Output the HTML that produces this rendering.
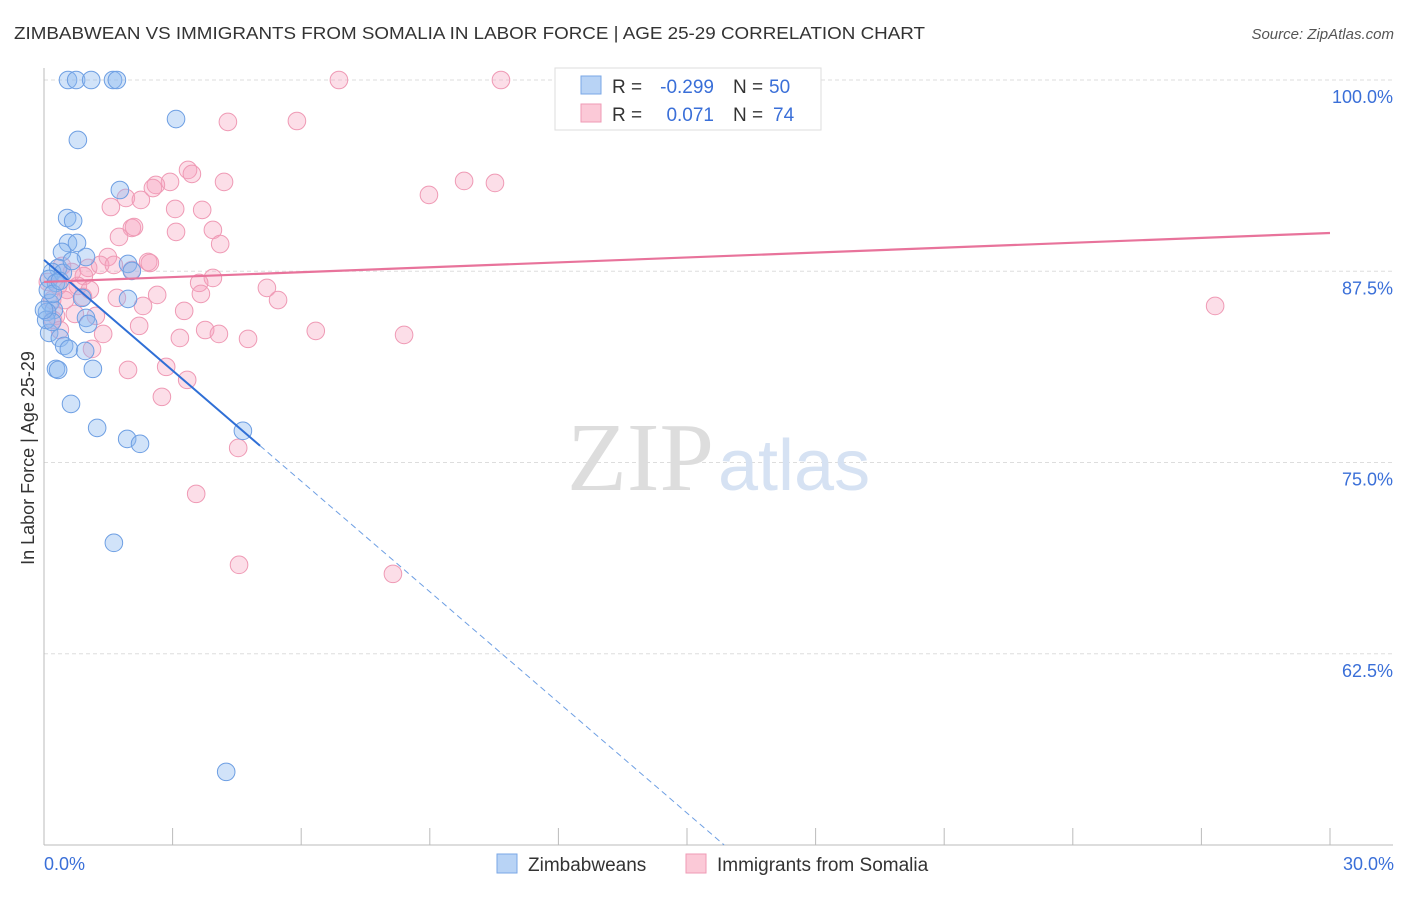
<!DOCTYPE html>
<html><head><meta charset="utf-8"><style>
body{margin:0;background:#fff;font-family:"Liberation Sans",sans-serif;}
svg text{font-family:"Liberation Sans",sans-serif;}
</style></head><body>
<svg width="1406" height="892" xmlns="http://www.w3.org/2000/svg">
<text x="14" y="39" font-size="17.5" fill="#333" textLength="911" lengthAdjust="spacingAndGlyphs">ZIMBABWEAN VS IMMIGRANTS FROM SOMALIA IN LABOR FORCE | AGE 25-29 CORRELATION CHART</text>
<text x="1394" y="39" font-size="15" fill="#555" font-style="italic" text-anchor="end">Source: ZipAtlas.com</text>
<g id="grid"></g>
<text x="714" y="490" font-size="98" fill="#ddd" text-anchor="end" style="font-family:'Liberation Serif',serif">ZIP</text>
<text x="718" y="490" font-size="72" fill="#d6e2f3">atlas</text>
<g id="pts"></g>
<g id="lines"></g>
<text x="34" y="458" font-size="18" fill="#333" text-anchor="middle" transform="rotate(-90 34 458)">In Labor Force | Age 25-29</text>
<text x="44" y="870" font-size="18" fill="#3a6fd8">0.0%</text>
<text x="1394" y="870" font-size="18" fill="#3a6fd8" text-anchor="end">30.0%</text>
<g>
<rect x="555" y="68" width="266" height="62" fill="#fff" stroke="#ddd"/>
<rect x="581" y="76" width="20" height="18" fill="#b8d3f5" stroke="#7aa7e6"/>
<rect x="581" y="104" width="20" height="18" fill="#fbc9d7" stroke="#ef9ab5"/>
<text x="612" y="93" font-size="19" fill="#333">R =</text>
<text x="714" y="93" font-size="19" fill="#3a6fd8" text-anchor="end">-0.299</text>
<text x="733" y="93" font-size="19" fill="#333">N =</text>
<text x="769" y="93" font-size="19" fill="#3a6fd8">50</text>
<text x="612" y="121" font-size="19" fill="#333">R =</text>
<text x="714" y="121" font-size="19" fill="#3a6fd8" text-anchor="end">0.071</text>
<text x="733" y="121" font-size="19" fill="#333">N =</text>
<text x="773" y="121" font-size="19" fill="#3a6fd8">74</text>
</g>
<g>
<rect x="497" y="854" width="20" height="19" fill="#b8d3f5" stroke="#7aa7e6"/>
<text x="528" y="871" font-size="19" fill="#333">Zimbabweans</text>
<rect x="686" y="854" width="20" height="19" fill="#fbc9d7" stroke="#ef9ab5"/>
<text x="717" y="871" font-size="19" fill="#333">Immigrants from Somalia</text>
</g>
</svg>
<script>
const yTicks=[100,87.5,75,62.5];
const yTickLabels=["100.0%","87.5%","75.0%","62.5%"];
const xTicks=[0,3,6,9,12,15,18,21,24,27,30];
const blueX=[0.56,0.75,1.10,1.61,1.70,3.08,0.79,1.77,0.54,0.68,0.56,0.77,0.42,0.98,0.33,0.19,0.12,0.44,0.28,1.96,2.05,0.89,1.96,0.14,0.23,0.07,0.98,1.03,0.12,0.37,0.47,0.58,0.96,0.28,0.33,1.14,0.63,1.24,1.94,2.24,4.64,1.63,4.25,0.09,0.05,0.21,0.37,0.65,0.19,0.0];
const blueY=[100,100,100,100,100,97.45,96.08,92.81,90.98,90.79,89.35,89.35,88.76,88.43,87.72,87.45,87.00,87.39,86.74,87.98,87.52,85.76,85.69,85.43,84.97,84.84,84.45,84.06,83.47,83.14,82.62,82.42,82.29,81.12,81.05,81.12,78.83,77.26,76.54,76.22,77.07,69.75,54.78,86.28,84.32,86.02,86.87,88.17,84.19,84.97];
const pinkX=[6.88,10.66,4.29,5.90,3.36,3.45,2.94,2.61,2.54,4.20,8.98,9.80,10.52,1.56,1.91,2.26,3.06,3.69,2.05,1.75,2.10,3.08,3.94,4.11,1.49,2.43,2.47,1.03,1.31,1.63,2.05,3.94,0.42,0.65,0.93,0.33,0.54,0.79,1.07,3.62,2.64,3.66,5.20,5.46,1.70,2.31,0.91,3.27,0.28,0.72,1.21,2.22,3.76,4.08,4.76,3.17,6.34,8.40,1.38,1.12,2.85,1.96,3.34,2.75,4.53,3.55,4.55,8.14,27.32,0.19,0.49,0.21,0.37,0.09];
const pinkY=[100,100,97.26,97.32,94.12,93.86,93.34,93.14,92.94,93.34,92.49,93.40,93.27,91.70,92.29,92.16,91.57,91.51,90.33,89.74,90.39,90.07,90.20,89.28,88.43,88.11,88.04,87.72,87.91,87.91,87.58,87.06,87.85,87.45,87.19,86.54,86.28,86.54,86.28,86.74,85.95,86.02,86.41,85.62,85.76,85.23,85.82,84.91,84.58,84.71,84.58,83.93,83.66,83.40,83.08,83.14,83.60,83.34,83.40,82.42,81.25,81.05,80.40,79.29,75.95,72.95,68.31,67.72,85.23,85.62,85.62,84.32,83.66,86.80];
const blueTrend=[88.24,-2.41];
const pinkTrend=[86.80,0.1067];
const X0=44,X1=1330,Y0=80,Y1=845;
const sx=v=>X0+(v/30)*(X1-X0);
const sy=v=>Y0+(100-v)/50*(Y1-Y0);
const NS="http://www.w3.org/2000/svg";
function mk(t,a,p){const e=document.createElementNS(NS,t);for(const k in a)e.setAttribute(k,a[k]);p.appendChild(e);return e;}
const grid=document.getElementById('grid');
yTicks.forEach((t,i)=>{
 const l=mk('line',{x1:X0,x2:1393,y1:sy(t),y2:sy(t),stroke:'#ddd','stroke-dasharray':'4,3'},grid);
 
 
 const tx=mk('text',{x:1393,y:sy(t)+23,'font-size':18,fill:'#3a6fd8','text-anchor':'end'},grid);
 tx.textContent=yTickLabels[i];
 
 
});
const ax=mk('line',{x1:X0,x2:X0,y1:68,y2:Y1,stroke:'#bbb'},grid);


const bx=mk('line',{x1:X0,x2:1393,y1:Y1,y2:Y1,stroke:'#bbb'},grid);


xTicks.forEach(t=>{
 const l=mk('line',{x1:sx(t),x2:sx(t),y1:Y1,y2:Y1-17,stroke:'#bbb'},grid);
 
 
});
const pts=document.getElementById('pts');
pinkX.forEach((x,i)=>{
 const c=mk('circle',{cx:sx(x),cy:sy(pinkY[i]),r:8.8,fill:'rgba(246,160,188,0.35)',stroke:'#ef9ab5','stroke-width':1},pts);
 
 
});
blueX.forEach((x,i)=>{
 const c=mk('circle',{cx:sx(x),cy:sy(blueY[i]),r:8.8,fill:'rgba(140,185,240,0.4)',stroke:'#6e9fe3','stroke-width':1},pts);
 
 
});
const lines=document.getElementById('lines');
const bf=x=>blueTrend[0]+blueTrend[1]*x, pf=x=>pinkTrend[0]+pinkTrend[1]*x;
const xEnd=(blueTrend[0]-50)/-blueTrend[1];
let l1=mk('line',{x1:sx(0),y1:sy(bf(0)),x2:sx(5.04),y2:sy(bf(5.04)),stroke:'#2f6fd6','stroke-width':2},lines);


let l2=mk('line',{x1:sx(5.04),y1:sy(bf(5.04)),x2:sx(xEnd),y2:sy(bf(xEnd)),stroke:'#6e9fe3','stroke-width':1,'stroke-dasharray':'6,4'},lines);


let l3=mk('line',{x1:sx(0),y1:sy(pf(0)),x2:sx(30),y2:sy(pf(30)),stroke:'#e8739b','stroke-width':2.2},lines);


</script>
</body></html>
